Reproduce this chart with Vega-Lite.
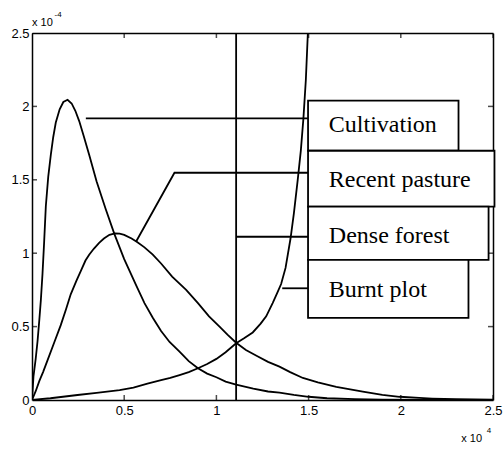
{
  "$schema": "https://vega.github.io/schema/vega-lite/v6.json",
  "width": 461,
  "height": 367,
  "autosize": "none",
  "padding": {"left": 32, "top": 33, "right": 10, "bottom": 49},
  "background": "white",
  "config": {
    "view": {"stroke": null},
    "axis": {
      "grid": false,
      "domainColor": "black",
      "domainWidth": 1.5,
      "ticks": false,
      "labelColor": "black",
      "labelFont": "Liberation Sans",
      "labelFontSize": 13,
      "title": null
    }
  },
  "datasets": {
    "curves": [
      {"series": "Cultivation", "x": 0, "y": 0},
      {"series": "Cultivation", "x": 0.008, "y": 0.16},
      {"series": "Cultivation", "x": 0.02, "y": 0.28},
      {"series": "Cultivation", "x": 0.03, "y": 0.4},
      {"series": "Cultivation", "x": 0.04, "y": 0.55},
      {"series": "Cultivation", "x": 0.048, "y": 0.68},
      {"series": "Cultivation", "x": 0.057, "y": 0.86},
      {"series": "Cultivation", "x": 0.066, "y": 1.08},
      {"series": "Cultivation", "x": 0.075, "y": 1.32},
      {"series": "Cultivation", "x": 0.088, "y": 1.52},
      {"series": "Cultivation", "x": 0.102, "y": 1.67},
      {"series": "Cultivation", "x": 0.115, "y": 1.79},
      {"series": "Cultivation", "x": 0.129, "y": 1.89},
      {"series": "Cultivation", "x": 0.15, "y": 1.98},
      {"series": "Cultivation", "x": 0.17, "y": 2.03},
      {"series": "Cultivation", "x": 0.193, "y": 2.045},
      {"series": "Cultivation", "x": 0.215, "y": 2.02},
      {"series": "Cultivation", "x": 0.235, "y": 1.97},
      {"series": "Cultivation", "x": 0.256, "y": 1.9},
      {"series": "Cultivation", "x": 0.28, "y": 1.8},
      {"series": "Cultivation", "x": 0.31, "y": 1.67},
      {"series": "Cultivation", "x": 0.35, "y": 1.49},
      {"series": "Cultivation", "x": 0.4, "y": 1.3},
      {"series": "Cultivation", "x": 0.447, "y": 1.13},
      {"series": "Cultivation", "x": 0.5, "y": 0.96},
      {"series": "Cultivation", "x": 0.565, "y": 0.78},
      {"series": "Cultivation", "x": 0.61, "y": 0.66},
      {"series": "Cultivation", "x": 0.655, "y": 0.56},
      {"series": "Cultivation", "x": 0.7, "y": 0.47},
      {"series": "Cultivation", "x": 0.746, "y": 0.395},
      {"series": "Cultivation", "x": 0.8, "y": 0.33},
      {"series": "Cultivation", "x": 0.85, "y": 0.265},
      {"series": "Cultivation", "x": 0.9, "y": 0.216},
      {"series": "Cultivation", "x": 0.95, "y": 0.18},
      {"series": "Cultivation", "x": 1.0, "y": 0.155},
      {"series": "Cultivation", "x": 1.05, "y": 0.125},
      {"series": "Cultivation", "x": 1.107, "y": 0.105},
      {"series": "Cultivation", "x": 1.2, "y": 0.078},
      {"series": "Cultivation", "x": 1.28, "y": 0.058},
      {"series": "Cultivation", "x": 1.342, "y": 0.05},
      {"series": "Cultivation", "x": 1.42, "y": 0.035},
      {"series": "Cultivation", "x": 1.5, "y": 0.022},
      {"series": "Cultivation", "x": 1.6, "y": 0.012},
      {"series": "Cultivation", "x": 1.75, "y": 0.006},
      {"series": "Cultivation", "x": 1.9, "y": 0.003},
      {"series": "Cultivation", "x": 2.2, "y": 0.001},
      {"series": "Cultivation", "x": 2.5, "y": 0},
      {"series": "Recent pasture", "x": 0, "y": 0},
      {"series": "Recent pasture", "x": 0.02, "y": 0.06},
      {"series": "Recent pasture", "x": 0.04, "y": 0.13},
      {"series": "Recent pasture", "x": 0.06, "y": 0.19},
      {"series": "Recent pasture", "x": 0.084, "y": 0.27},
      {"series": "Recent pasture", "x": 0.12, "y": 0.39},
      {"series": "Recent pasture", "x": 0.156, "y": 0.51},
      {"series": "Recent pasture", "x": 0.185, "y": 0.62},
      {"series": "Recent pasture", "x": 0.21, "y": 0.72},
      {"series": "Recent pasture", "x": 0.24, "y": 0.81},
      {"series": "Recent pasture", "x": 0.265, "y": 0.88},
      {"series": "Recent pasture", "x": 0.29, "y": 0.95},
      {"series": "Recent pasture", "x": 0.31, "y": 0.99},
      {"series": "Recent pasture", "x": 0.335, "y": 1.03},
      {"series": "Recent pasture", "x": 0.364, "y": 1.07},
      {"series": "Recent pasture", "x": 0.39, "y": 1.1},
      {"series": "Recent pasture", "x": 0.42, "y": 1.125},
      {"series": "Recent pasture", "x": 0.45, "y": 1.135},
      {"series": "Recent pasture", "x": 0.475, "y": 1.133},
      {"series": "Recent pasture", "x": 0.5, "y": 1.125},
      {"series": "Recent pasture", "x": 0.54, "y": 1.1},
      {"series": "Recent pasture", "x": 0.572, "y": 1.075},
      {"series": "Recent pasture", "x": 0.61, "y": 1.04},
      {"series": "Recent pasture", "x": 0.655, "y": 0.99},
      {"series": "Recent pasture", "x": 0.7, "y": 0.93},
      {"series": "Recent pasture", "x": 0.76, "y": 0.84},
      {"series": "Recent pasture", "x": 0.836, "y": 0.75},
      {"series": "Recent pasture", "x": 0.9, "y": 0.66},
      {"series": "Recent pasture", "x": 0.96, "y": 0.57},
      {"series": "Recent pasture", "x": 1.017, "y": 0.5},
      {"series": "Recent pasture", "x": 1.06, "y": 0.445},
      {"series": "Recent pasture", "x": 1.107, "y": 0.39},
      {"series": "Recent pasture", "x": 1.16, "y": 0.34},
      {"series": "Recent pasture", "x": 1.22, "y": 0.3},
      {"series": "Recent pasture", "x": 1.28, "y": 0.26},
      {"series": "Recent pasture", "x": 1.342, "y": 0.227},
      {"series": "Recent pasture", "x": 1.4, "y": 0.19},
      {"series": "Recent pasture", "x": 1.469, "y": 0.15},
      {"series": "Recent pasture", "x": 1.55, "y": 0.12},
      {"series": "Recent pasture", "x": 1.65, "y": 0.09},
      {"series": "Recent pasture", "x": 1.794, "y": 0.057},
      {"series": "Recent pasture", "x": 1.9, "y": 0.035},
      {"series": "Recent pasture", "x": 1.993, "y": 0.022},
      {"series": "Recent pasture", "x": 2.1, "y": 0.014},
      {"series": "Recent pasture", "x": 2.17, "y": 0.01},
      {"series": "Recent pasture", "x": 2.3, "y": 0.006},
      {"series": "Recent pasture", "x": 2.5, "y": 0.003},
      {"series": "Burnt plot", "x": 0, "y": 0},
      {"series": "Burnt plot", "x": 0.1, "y": 0.012},
      {"series": "Burnt plot", "x": 0.247, "y": 0.034},
      {"series": "Burnt plot", "x": 0.35, "y": 0.048},
      {"series": "Burnt plot", "x": 0.475, "y": 0.068},
      {"series": "Burnt plot", "x": 0.55, "y": 0.085},
      {"series": "Burnt plot", "x": 0.626, "y": 0.112},
      {"series": "Burnt plot", "x": 0.7, "y": 0.135},
      {"series": "Burnt plot", "x": 0.75, "y": 0.15},
      {"series": "Burnt plot", "x": 0.8, "y": 0.17},
      {"series": "Burnt plot", "x": 0.85, "y": 0.19},
      {"series": "Burnt plot", "x": 0.9, "y": 0.216},
      {"series": "Burnt plot", "x": 0.95, "y": 0.245},
      {"series": "Burnt plot", "x": 1.0, "y": 0.28},
      {"series": "Burnt plot", "x": 1.05, "y": 0.325},
      {"series": "Burnt plot", "x": 1.107, "y": 0.386},
      {"series": "Burnt plot", "x": 1.15, "y": 0.42},
      {"series": "Burnt plot", "x": 1.197, "y": 0.46},
      {"series": "Burnt plot", "x": 1.24, "y": 0.52},
      {"series": "Burnt plot", "x": 1.27, "y": 0.57},
      {"series": "Burnt plot", "x": 1.305, "y": 0.66},
      {"series": "Burnt plot", "x": 1.33, "y": 0.73},
      {"series": "Burnt plot", "x": 1.351, "y": 0.79},
      {"series": "Burnt plot", "x": 1.375, "y": 0.9},
      {"series": "Burnt plot", "x": 1.402, "y": 1.1},
      {"series": "Burnt plot", "x": 1.42, "y": 1.27},
      {"series": "Burnt plot", "x": 1.441, "y": 1.5},
      {"series": "Burnt plot", "x": 1.458, "y": 1.7},
      {"series": "Burnt plot", "x": 1.472, "y": 1.92},
      {"series": "Burnt plot", "x": 1.485, "y": 2.18},
      {"series": "Burnt plot", "x": 1.496, "y": 2.5}
    ],
    "forest": [{"series": "Dense forest", "x": 1.107}],
    "leaders": [
      {"id": "Cultivation", "o": 1, "x": 0.292, "y": 1.918},
      {"id": "Cultivation", "o": 2, "x": 1.497, "y": 1.918},
      {"id": "Recent pasture", "o": 1, "x": 0.564, "y": 1.078},
      {"id": "Recent pasture", "o": 2, "x": 0.7726, "y": 1.548},
      {"id": "Recent pasture", "o": 3, "x": 1.497, "y": 1.548},
      {"id": "Dense forest", "o": 1, "x": 1.107, "y": 1.112},
      {"id": "Dense forest", "o": 2, "x": 1.497, "y": 1.112},
      {"id": "Burnt plot", "o": 1, "x": 1.357, "y": 0.761},
      {"id": "Burnt plot", "o": 2, "x": 1.497, "y": 0.761}
    ],
    "boxes": [
      {"label": "Cultivation", "x1": 1.497, "x2": 2.313, "y1": 1.698, "y2": 2.039, "tx": 1.6096, "ty": 1.828},
      {"label": "Recent pasture", "x1": 1.497, "x2": 2.508, "y1": 1.317, "y2": 1.698, "tx": 1.6096, "ty": 1.449},
      {"label": "Dense forest", "x1": 1.497, "x2": 2.476, "y1": 0.954, "y2": 1.317, "tx": 1.6096, "ty": 1.067},
      {"label": "Burnt plot", "x1": 1.497, "x2": 2.367, "y1": 0.559, "y2": 0.954, "tx": 1.6096, "ty": 0.7}
    ],
    "ticks": [{"v": 0}, {"v": 0.5}, {"v": 1}, {"v": 1.5}, {"v": 2}, {"v": 2.5}],
    "notes": [
      {"kind": "base", "text": "x 10", "x": 0, "y": 2.548},
      {"kind": "sup", "text": "-4", "x": 0.122, "y": 2.607},
      {"kind": "base", "text": "x 10", "x": 2.328, "y": -0.284},
      {"kind": "sup", "text": "4", "x": 2.466, "y": -0.227}
    ]
  },
  "layer": [
    {
      "data": {"name": "curves"},
      "mark": {"type": "line", "color": "black", "strokeWidth": 1.8, "clip": true},
      "encoding": {
        "x": {"field": "x", "type": "quantitative", "scale": {"domain": [0, 2.5], "nice": false},
              "axis": {"orient": "bottom", "values": [0, 0.5, 1, 1.5, 2, 2.5], "format": "~g", "labelPadding": 4, "labelFlush": false}},
        "y": {"field": "y", "type": "quantitative", "scale": {"domain": [0, 2.5], "nice": false},
              "axis": {"orient": "left", "values": [0, 0.5, 1, 1.5, 2, 2.5], "format": "~g", "labelPadding": 3, "labelFlush": false}},
        "detail": {"field": "series"}
      }
    },
    {
      "data": {"name": "forest"},
      "mark": {"type": "rule", "color": "black", "strokeWidth": 1.8},
      "encoding": {
        "x": {"field": "x", "type": "quantitative", "scale": {"domain": [0, 2.5], "nice": false},
              "axis": {"orient": "top", "labels": false}}
      }
    },
    {
      "data": {"name": "leaders"},
      "mark": {"type": "line", "color": "black", "strokeWidth": 1.8},
      "encoding": {
        "x": {"field": "x", "type": "quantitative", "scale": {"domain": [0, 2.5], "nice": false}, "axis": null},
        "y": {"field": "y", "type": "quantitative", "scale": {"domain": [0, 2.5], "nice": false},
              "axis": {"orient": "right", "labels": false}},
        "detail": {"field": "id"},
        "order": {"field": "o", "type": "quantitative"}
      }
    },
    {
      "data": {"name": "ticks"},
      "mark": {"type": "tick", "orient": "vertical", "color": "black", "size": 10, "thickness": 1.5, "clip": true},
      "encoding": {
        "x": {"field": "v", "type": "quantitative", "scale": {"domain": [0, 2.5], "nice": false}, "axis": null},
        "y": {"datum": 0, "type": "quantitative", "scale": {"domain": [0, 2.5], "nice": false}, "axis": null}
      }
    },
    {
      "data": {"name": "ticks"},
      "mark": {"type": "tick", "orient": "vertical", "color": "black", "size": 10, "thickness": 1.5, "clip": true},
      "encoding": {
        "x": {"field": "v", "type": "quantitative", "scale": {"domain": [0, 2.5], "nice": false}, "axis": null},
        "y": {"datum": 2.5, "type": "quantitative", "scale": {"domain": [0, 2.5], "nice": false}, "axis": null}
      }
    },
    {
      "data": {"name": "ticks"},
      "mark": {"type": "tick", "orient": "horizontal", "color": "black", "size": 10, "thickness": 1.5, "clip": true},
      "encoding": {
        "y": {"field": "v", "type": "quantitative", "scale": {"domain": [0, 2.5], "nice": false}, "axis": null},
        "x": {"datum": 0, "type": "quantitative", "scale": {"domain": [0, 2.5], "nice": false}, "axis": null}
      }
    },
    {
      "data": {"name": "ticks"},
      "mark": {"type": "tick", "orient": "horizontal", "color": "black", "size": 10, "thickness": 1.5, "clip": true},
      "encoding": {
        "y": {"field": "v", "type": "quantitative", "scale": {"domain": [0, 2.5], "nice": false}, "axis": null},
        "x": {"datum": 2.5, "type": "quantitative", "scale": {"domain": [0, 2.5], "nice": false}, "axis": null}
      }
    },
    {
      "data": {"name": "boxes"},
      "mark": {"type": "rect", "fill": "white", "stroke": "black", "strokeWidth": 1.8},
      "encoding": {
        "x": {"field": "x1", "type": "quantitative", "scale": {"domain": [0, 2.5], "nice": false}, "axis": null},
        "x2": {"field": "x2"},
        "y": {"field": "y1", "type": "quantitative", "scale": {"domain": [0, 2.5], "nice": false}, "axis": null},
        "y2": {"field": "y2"}
      }
    },
    {
      "data": {"name": "boxes"},
      "mark": {"type": "text", "font": "Liberation Serif", "fontSize": 24, "align": "left", "baseline": "alphabetic", "color": "black"},
      "encoding": {
        "x": {"field": "tx", "type": "quantitative", "scale": {"domain": [0, 2.5], "nice": false}, "axis": null},
        "y": {"field": "ty", "type": "quantitative", "scale": {"domain": [0, 2.5], "nice": false}, "axis": null},
        "text": {"field": "label"}
      }
    },
    {
      "data": {"name": "notes"},
      "transform": [{"filter": "datum.kind === 'base'"}],
      "mark": {"type": "text", "font": "Liberation Sans", "fontSize": 11, "align": "left", "baseline": "alphabetic", "color": "black"},
      "encoding": {
        "x": {"field": "x", "type": "quantitative", "scale": {"domain": [0, 2.5], "nice": false}, "axis": null},
        "y": {"field": "y", "type": "quantitative", "scale": {"domain": [0, 2.5], "nice": false}, "axis": null},
        "text": {"field": "text"}
      }
    },
    {
      "data": {"name": "notes"},
      "transform": [{"filter": "datum.kind === 'sup'"}],
      "mark": {"type": "text", "font": "Liberation Sans", "fontSize": 8, "align": "left", "baseline": "alphabetic", "color": "black"},
      "encoding": {
        "x": {"field": "x", "type": "quantitative", "scale": {"domain": [0, 2.5], "nice": false}, "axis": null},
        "y": {"field": "y", "type": "quantitative", "scale": {"domain": [0, 2.5], "nice": false}, "axis": null},
        "text": {"field": "text"}
      }
    }
  ],
  "resolve": {"axis": {"x": "independent", "y": "independent"}}
}
